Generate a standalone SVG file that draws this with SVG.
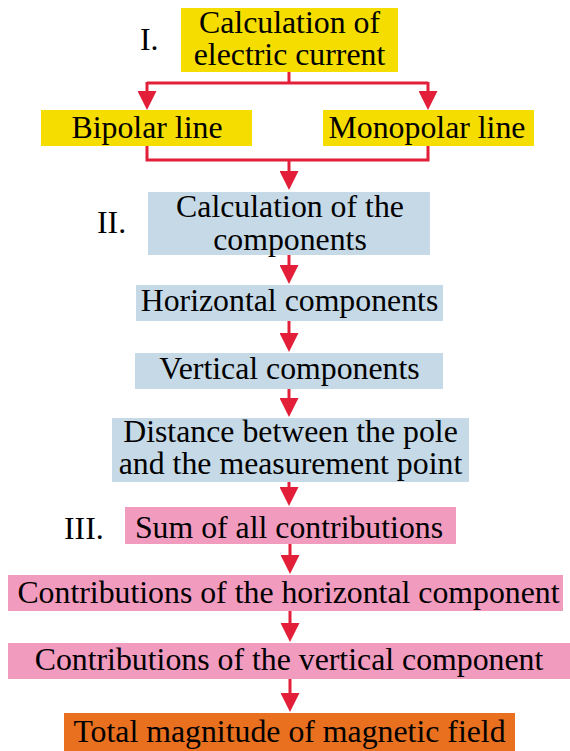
<svg xmlns="http://www.w3.org/2000/svg" width="570" height="751" viewBox="0 0 570 751">
<style>
text{font-family:"Liberation Serif","Times New Roman",serif;font-size:31.8px;fill:#000}
.c{text-anchor:middle}
.y{fill:#f5dd00}
.b{fill:#c5d9e7}
.p{fill:#f19bbf}
.o{fill:#e8701f}
.ln{fill:none;stroke:#e31e38;stroke-width:3}
</style>
<defs>
<marker id="ah" markerUnits="userSpaceOnUse" markerWidth="19" markerHeight="19" viewBox="0 0 19 19" refX="9" refY="9.5" orient="auto">
<path d="M0,0 L19,9.5 L0,19 Z" fill="#e31e38"/>
</marker>
</defs>
<rect width="570" height="751" fill="#fff"/>
<g id="labels">
<text x="140" y="50">I.</text>
<text x="97" y="233">II.</text>
<text x="64" y="539">III.</text>
</g>
<g id="connectors">
<path class="ln" d="M289,72 V83 M147,83 H428"/>
<path class="ln" d="M147,82 V100" marker-end="url(#ah)"/>
<path class="ln" d="M428,82 V100" marker-end="url(#ah)"/>
<path class="ln" d="M147,146 V160 H428 V146"/>
<path class="ln" d="M289,160 V180" marker-end="url(#ah)"/>
<path class="ln" d="M289,255 V274" marker-end="url(#ah)"/>
<path class="ln" d="M289,321 V342" marker-end="url(#ah)"/>
<path class="ln" d="M289,389 V407" marker-end="url(#ah)"/>
<path class="ln" d="M289,482 V496" marker-end="url(#ah)"/>
<path class="ln" d="M290,544 V564" marker-end="url(#ah)"/>
<path class="ln" d="M290,611 V632" marker-end="url(#ah)"/>
<path class="ln" d="M290,679 V702" marker-end="url(#ah)"/>
</g>
<g id="n1"><rect class="y" x="181" y="8" width="217" height="64"/>
<text class="c" x="289.5" y="33">Calculation of</text>
<text class="c" x="289.5" y="65">electric current</text></g>
<g id="n2"><rect class="y" x="41" y="110" width="211" height="36"/>
<text class="c" x="147" y="138">Bipolar line</text></g>
<g id="n3"><rect class="y" x="323" y="110" width="211" height="36"/>
<text class="c" x="427" y="138">Monopolar line</text></g>
<g id="n4"><rect class="b" x="148" y="192" width="282" height="63"/>
<text class="c" x="290" y="217">Calculation of the</text>
<text class="c" x="290" y="250">components</text></g>
<g id="n5"><rect class="b" x="136" y="285" width="307" height="36"/>
<text class="c" x="289.5" y="311">Horizontal components</text></g>
<g id="n6"><rect class="b" x="135" y="353" width="308" height="36"/>
<text class="c" x="289.5" y="379">Vertical components</text></g>
<g id="n7"><rect class="b" x="112" y="418" width="357" height="64"/>
<text class="c" x="290.5" y="442">Distance between the pole</text>
<text class="c" x="290.5" y="474">and the measurement point</text></g>
<g id="n8"><rect class="p" x="125" y="507" width="331" height="37"/>
<text class="c" x="289" y="538">Sum of all contributions</text></g>
<g id="n9"><rect class="p" x="8" y="575" width="555" height="36"/>
<text class="c" x="288.5" y="603">Contributions of the horizontal component</text></g>
<g id="n10"><rect class="p" x="8" y="643" width="562" height="36"/>
<text class="c" x="289" y="670">Contributions of the vertical component</text></g>
<g id="n11"><rect class="o" x="64" y="713" width="451" height="38"/>
<text class="c" x="289.5" y="742">Total magnitude of magnetic field</text></g>
</svg>
